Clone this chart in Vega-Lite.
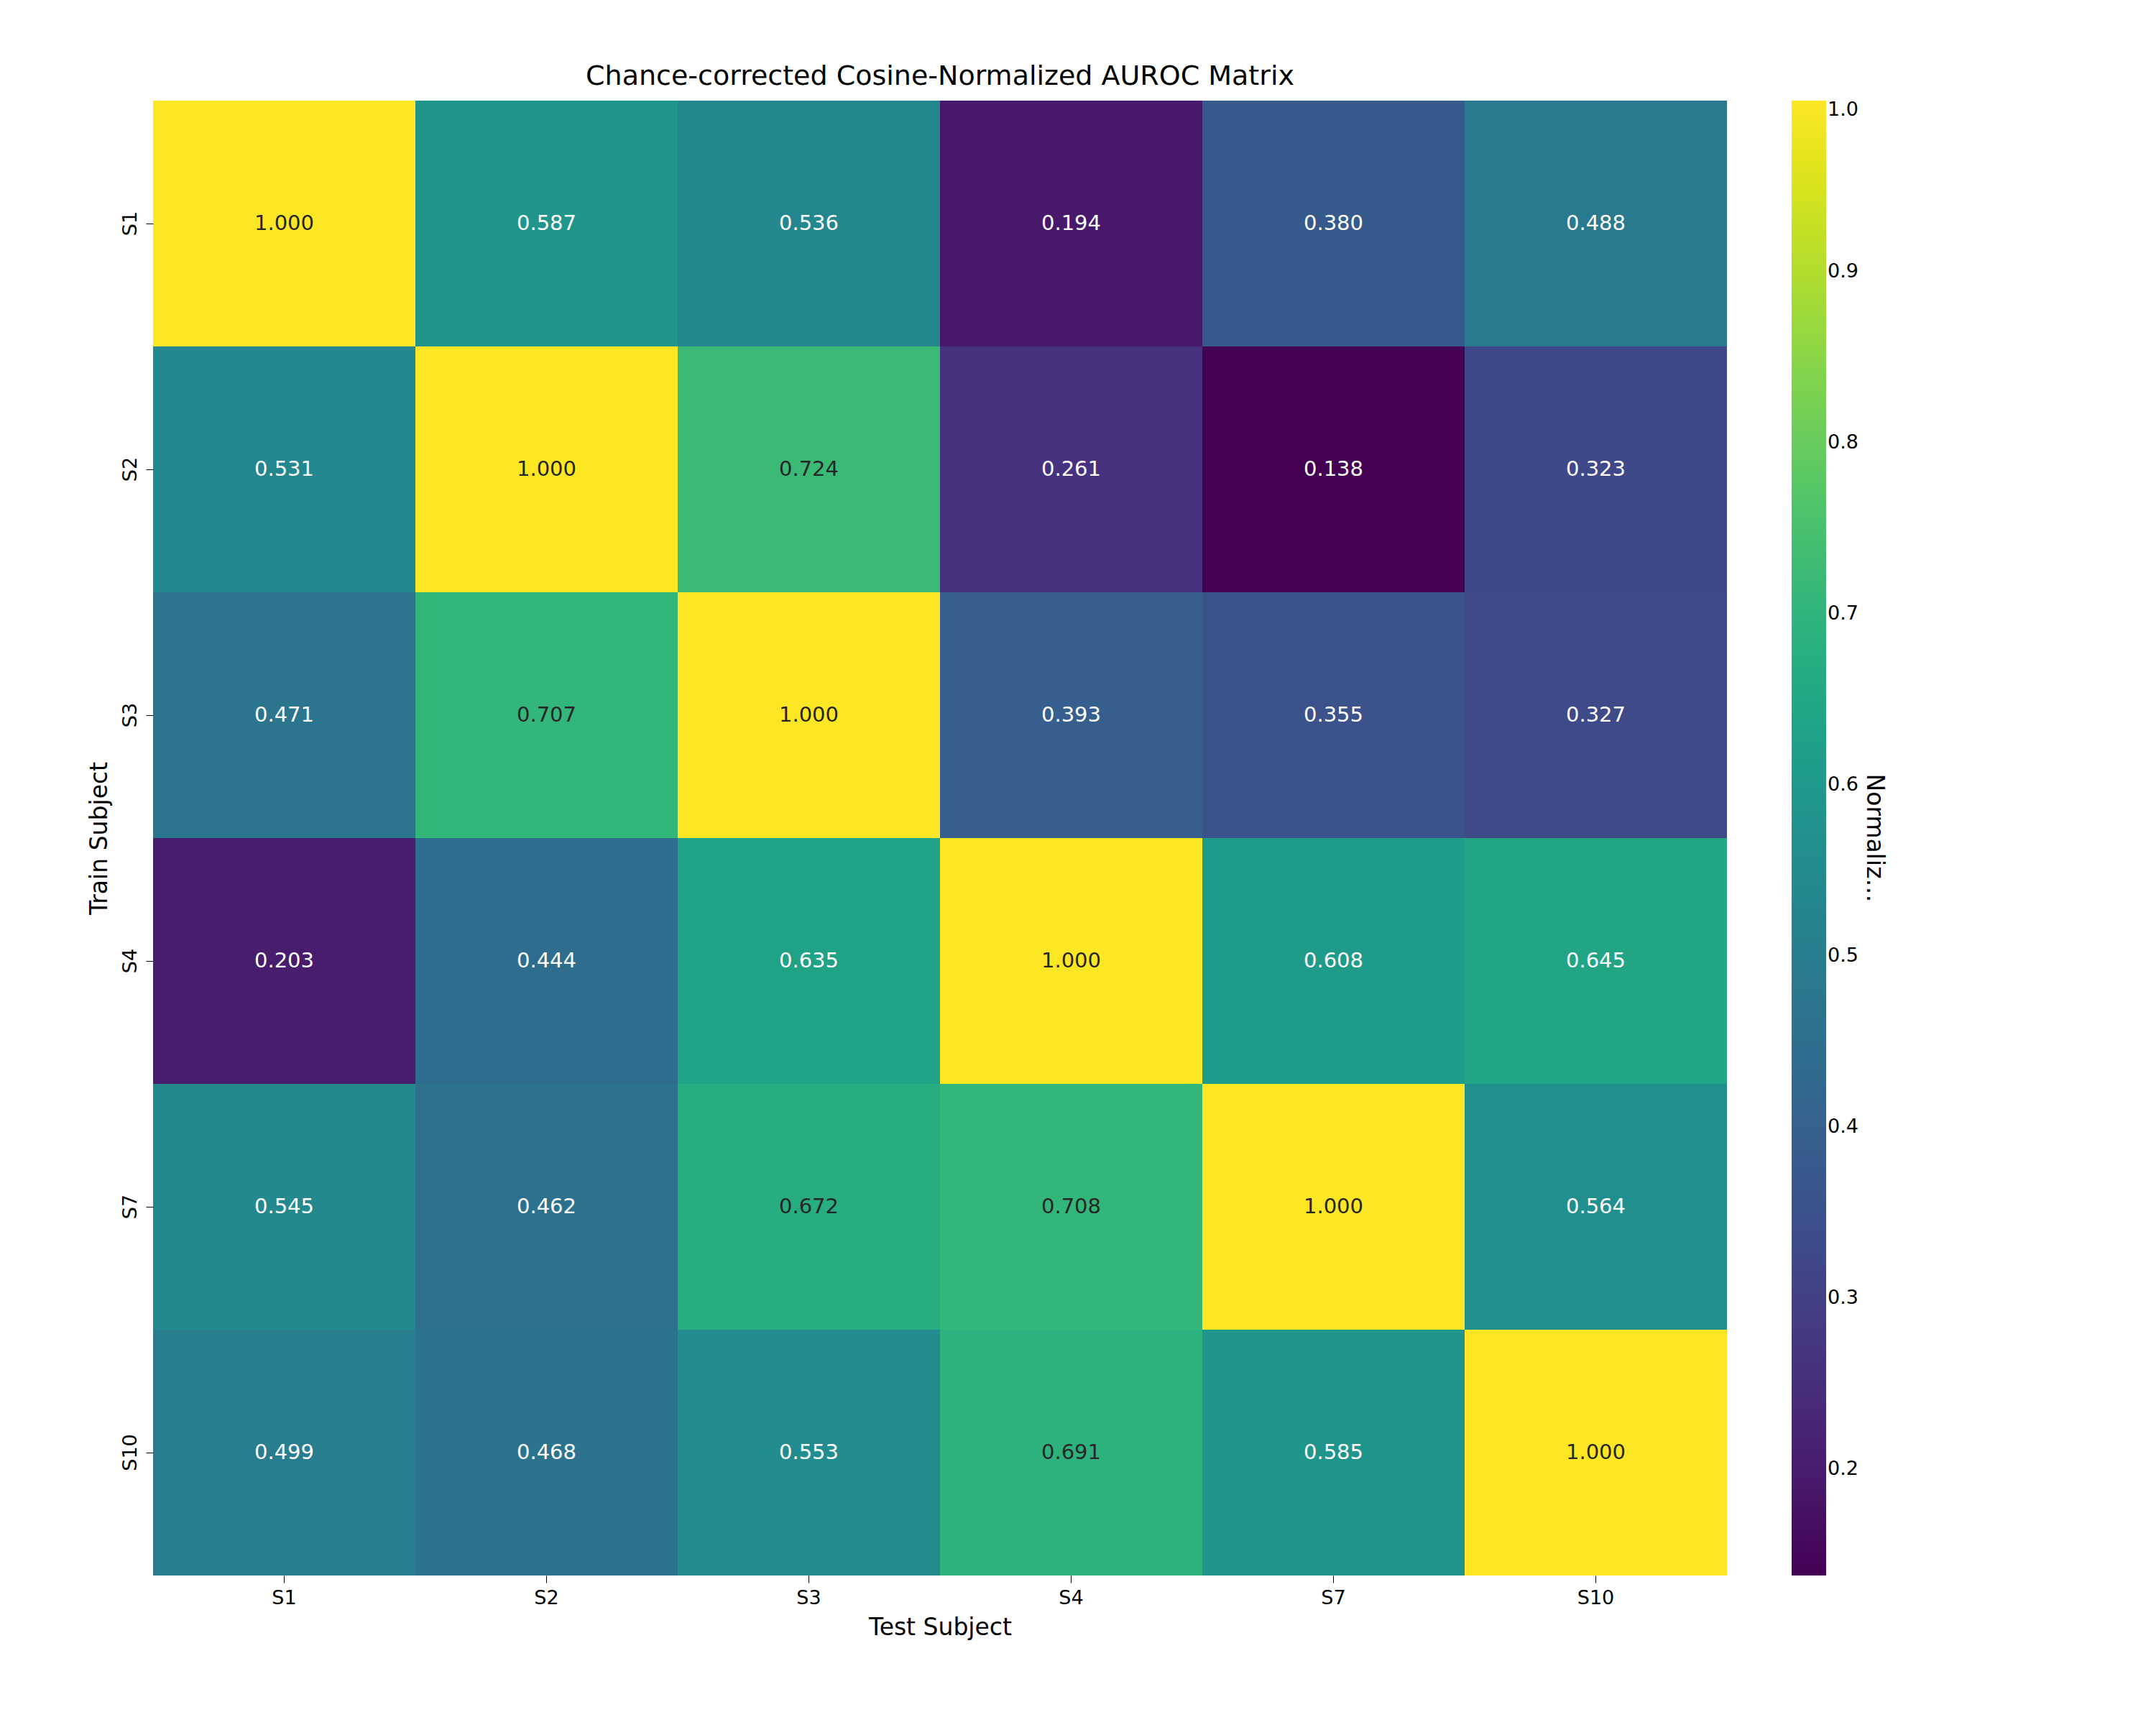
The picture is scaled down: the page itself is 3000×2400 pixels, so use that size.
{
"$schema":"https://vega.github.io/schema/vega-lite/v6.json",
"width":2190,"height":2052,
"autosize":{"type":"none"},
"padding":{"left":213,"top":140,"right":596,"bottom":208},
"background":"white",
"title":{"text":"Chance-corrected Cosine-Normalized AUROC Matrix","fontSize":38,"font":"DejaVu Sans","fontWeight":"normal","offset":14},
"data":{"values":[
{"train":"S1","test":"S1","v":1.0},{"train":"S1","test":"S2","v":0.587},{"train":"S1","test":"S3","v":0.536},{"train":"S1","test":"S4","v":0.194},{"train":"S1","test":"S7","v":0.380},{"train":"S1","test":"S10","v":0.488},
{"train":"S2","test":"S1","v":0.531},{"train":"S2","test":"S2","v":1.0},{"train":"S2","test":"S3","v":0.724},{"train":"S2","test":"S4","v":0.261},{"train":"S2","test":"S7","v":0.138},{"train":"S2","test":"S10","v":0.323},
{"train":"S3","test":"S1","v":0.471},{"train":"S3","test":"S2","v":0.707},{"train":"S3","test":"S3","v":1.0},{"train":"S3","test":"S4","v":0.393},{"train":"S3","test":"S7","v":0.355},{"train":"S3","test":"S10","v":0.327},
{"train":"S4","test":"S1","v":0.203},{"train":"S4","test":"S2","v":0.444},{"train":"S4","test":"S3","v":0.635},{"train":"S4","test":"S4","v":1.0},{"train":"S4","test":"S7","v":0.608},{"train":"S4","test":"S10","v":0.645},
{"train":"S7","test":"S1","v":0.545},{"train":"S7","test":"S2","v":0.462},{"train":"S7","test":"S3","v":0.672},{"train":"S7","test":"S4","v":0.708},{"train":"S7","test":"S7","v":1.0},{"train":"S7","test":"S10","v":0.564},
{"train":"S10","test":"S1","v":0.499},{"train":"S10","test":"S2","v":0.468},{"train":"S10","test":"S3","v":0.553},{"train":"S10","test":"S4","v":0.691},{"train":"S10","test":"S7","v":0.585},{"train":"S10","test":"S10","v":1.0}
]},
"encoding":{
"x":{"field":"test","type":"nominal","sort":["S1","S2","S3","S4","S7","S10"],"title":"Test Subject","axis":{"labelAngle":0,"labelFontSize":27,"titleFontSize":33,"labelFont":"DejaVu Sans","titleFont":"DejaVu Sans","titleFontWeight":"normal","domain":false,"tickSize":10,"tickColor":"black","labelPadding":8,"titlePadding":12,"labelColor":"black","titleColor":"black"}},
"y":{"field":"train","type":"nominal","sort":["S1","S2","S3","S4","S7","S10"],"title":"Train Subject","axis":{"labelAngle":-90,"labelAlign":"center","labelBaseline":"bottom","labelFontSize":27,"titleFontSize":33,"labelFont":"DejaVu Sans","titleFont":"DejaVu Sans","titleFontWeight":"normal","domain":false,"tickSize":10,"tickColor":"black","labelPadding":8,"titlePadding":12,"labelColor":"black","titleColor":"black"}}
},
"layer":[
{"mark":{"type":"rect"},"encoding":{"color":{"field":"v","type":"quantitative","scale":{"scheme":"viridis","domain":[0.138,1.0]},"title":"Normalized Score","legend":{"orient":"right","gradientLength":2052,"gradientThickness":48,"offset":90,"labelFontSize":27,"labelFont":"DejaVu Sans","titleFontSize":33,"titleFont":"DejaVu Sans","titleFontWeight":"normal","titleOrient":"right","titleAnchor":"middle","values":[0.2,0.3,0.4,0.5,0.6,0.7,0.8,0.9,1.0],"format":".1f","tickCount":9,"labelColor":"black","titleColor":"black"}}}},
{"mark":{"type":"text","fontSize":29,"font":"DejaVu Sans"},"encoding":{"text":{"field":"v","type":"quantitative","format":".3f"},"color":{"condition":{"test":"datum.v > 0.66","value":"#262626"},"value":"white"}}}
],
"config":{"view":{"stroke":null},"axis":{"grid":false},"legend":{"titleAngle":90}}
}
